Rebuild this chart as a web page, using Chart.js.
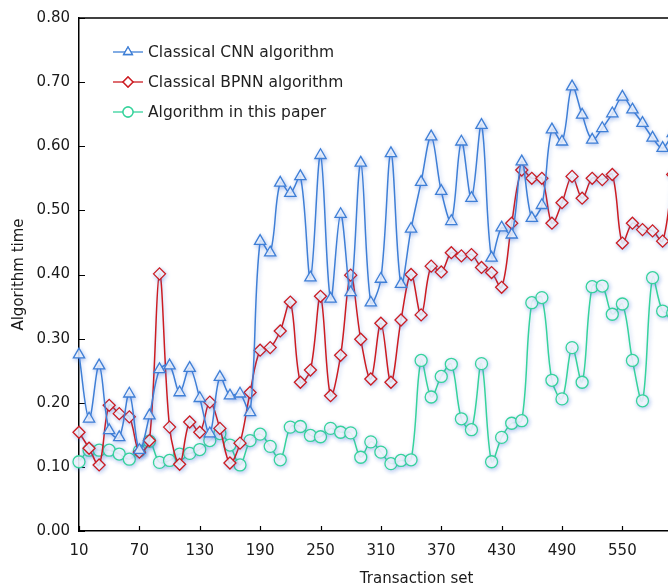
<!DOCTYPE html>
<html>
<head>
<meta charset="utf-8">
<script src="https://cdn.jsdelivr.net/npm/chart.js@4/dist/chart.umd.min.js"></script>
<style>
  html, body { margin: 0; padding: 0; background: #fff; overflow: hidden; }
  #wrap { width: 762px; height: 585px; }
</style>
</head>
<body>
<div id="wrap"><canvas id="chart" width="762" height="585"></canvas></div>
<script>
// transaction set sizes (x)
const transactionSet = [10, 20, 30, 40, 50, 60, 70, 80, 90, 100,
  110, 120, 130, 140, 150, 160, 170, 180, 190, 200,
  210, 220, 230, 240, 250, 260, 270, 280, 290, 300,
  310, 320, 330, 340, 350, 360, 370, 380, 390, 400,
  410, 420, 430, 440, 450, 460, 470, 480, 490, 500,
  510, 520, 530, 540, 550, 560, 570, 580, 590, 600];

const cnnTime = [0.275, 0.175, 0.258, 0.157, 0.146, 0.214, 0.126, 0.180, 0.252, 0.258,
  0.216, 0.254, 0.207, 0.152, 0.240, 0.211, 0.214, 0.185, 0.452, 0.434,
  0.543, 0.527, 0.553, 0.395, 0.586, 0.362, 0.494, 0.372, 0.574, 0.356,
  0.393, 0.589, 0.385, 0.471, 0.544, 0.615, 0.530, 0.483, 0.607, 0.519,
  0.633, 0.426, 0.473, 0.462, 0.576, 0.488, 0.508, 0.626, 0.607, 0.693,
  0.649, 0.610, 0.628, 0.651, 0.677, 0.657, 0.636, 0.613, 0.597, 0.620];

const bpnnTime = [0.154, 0.129, 0.103, 0.196, 0.183, 0.178, 0.123, 0.141, 0.401, 0.162,
  0.104, 0.170, 0.154, 0.201, 0.160, 0.106, 0.137, 0.216, 0.282, 0.286,
  0.312, 0.357, 0.232, 0.251, 0.366, 0.211, 0.274, 0.399, 0.299, 0.237,
  0.324, 0.232, 0.329, 0.400, 0.337, 0.413, 0.404, 0.434, 0.429, 0.431,
  0.411, 0.403, 0.380, 0.480, 0.563, 0.550, 0.550, 0.480, 0.512, 0.553,
  0.519, 0.550, 0.548, 0.556, 0.449, 0.480, 0.470, 0.468, 0.452, 0.556];

const paperTime = [0.108, 0.126, 0.126, 0.126, 0.120, 0.112, 0.125, 0.140, 0.107, 0.110,
  0.120, 0.121, 0.127, 0.141, 0.152, 0.134, 0.103, 0.141, 0.151, 0.132,
  0.111, 0.162, 0.163, 0.149, 0.147, 0.160, 0.154, 0.153, 0.115, 0.139,
  0.123, 0.105, 0.110, 0.111, 0.266, 0.209, 0.241, 0.260, 0.175, 0.158,
  0.261, 0.108, 0.146, 0.168, 0.172, 0.356, 0.364, 0.235, 0.206, 0.286,
  0.232, 0.381, 0.382, 0.338, 0.354, 0.266, 0.203, 0.395, 0.343, 0.340];

const xTicks = [10, 70, 130, 190, 250, 310, 370, 430, 490, 550, 610];
const yTicks = [0, 0.1, 0.2, 0.3, 0.4, 0.5, 0.6, 0.7, 0.8];

const seriesNames = ['Classical CNN algorithm', 'Classical BPNN algorithm', 'Algorithm in this paper'];
const colors = ['#3f7fd6', '#cc1c22', '#36d39c'];
const shapes = ['triangle', 'rectRot', 'circle'];

const FONT = 'DejaVu Sans, Verdana, sans-serif';

function pts(vals) {
  return vals.map((v, i) => ({ x: transactionSet[i], y: v }));
}

function makeSet(i, vals) {
  return {
    label: seriesNames[i],
    data: pts(vals),
    borderColor: colors[i],
    borderWidth: 1.5,
    pointStyle: shapes[i],
    pointRadius: i == 0 ? 6.5 : 6,
    pointBorderWidth: 1.3,
    pointBorderColor: colors[i],
    pointBackgroundColor: 'rgba(255,255,255,0.85)',
    tension: 0.35,
    clip: false
  };
}

// soft glow under the lines/markers
const glow = {
  id: 'glow',
  beforeDatasetDraw(chart) {
    const ctx = chart.ctx;
    ctx.save();
    ctx.shadowColor = 'rgba(70,120,220,0.4)';
    ctx.shadowBlur = 4;
    ctx.shadowOffsetX = 1;
    ctx.shadowOffsetY = 1.5;
  },
  afterDatasetDraw(chart) {
    chart.ctx.restore();
  }
};

// top frame line + inward tick marks
const frame = {
  id: 'frame',
  beforeDatasetsDraw(chart) {
    const ctx = chart.ctx;
    const a = chart.chartArea;
    const xs = chart.scales.x, ys = chart.scales.y;
    ctx.save();
    ctx.strokeStyle = '#000';
    ctx.lineWidth = 1.5;
    ctx.beginPath();
    ctx.moveTo(a.left, a.top);
    ctx.lineTo(a.right, a.top);
    ctx.stroke();
    ctx.lineWidth = 1.2;
    ctx.beginPath();
    yTicks.forEach(v => {
      const y = Math.round(ys.getPixelForValue(v)) + 0.5;
      ctx.moveTo(a.left, y);
      ctx.lineTo(a.left + 6, y);
    });
    xTicks.forEach(v => {
      const x = Math.round(xs.getPixelForValue(v)) + 0.5;
      ctx.moveTo(x, a.bottom);
      ctx.lineTo(x, a.bottom - 5);
    });
    ctx.stroke();
    ctx.restore();
  }
};

// legend inside the plot, upper left
const innerLegend = {
  id: 'innerLegend',
  afterDraw(chart) {
    const ctx = chart.ctx;
    ctx.save();
    ctx.font = '15.5px ' + FONT;
    ctx.textBaseline = 'middle';
    seriesNames.forEach((name, i) => {
      const y = 52 + i * 30;
      ctx.strokeStyle = colors[i];
      ctx.lineWidth = 1.3;
      ctx.beginPath();
      ctx.moveTo(113, y);
      ctx.lineTo(143, y);
      ctx.stroke();
      ctx.fillStyle = '#fff';
      Chart.helpers.drawPoint(ctx, { pointStyle: shapes[i], radius: 5, borderWidth: 1.2, rotation: 0 }, 128, y);
      ctx.fill();
      ctx.stroke();
      ctx.fillStyle = '#222';
      ctx.fillText(name, 148, y + 1);
    });
    ctx.restore();
  }
};

new Chart(document.getElementById('chart'), {
  type: 'line',
  data: {
    datasets: [makeSet(0, cnnTime), makeSet(1, bpnnTime), makeSet(2, paperTime)]
  },
  options: {
    responsive: false,
    animation: false,
    layout: { padding: { left: 0, right: 0, top: 16, bottom: 0 } },
    plugins: { legend: { display: false }, tooltip: { enabled: false } },
    scales: {
      x: {
        type: 'linear',
        min: 10,
        max: 681,
        afterBuildTicks: s => { s.ticks = xTicks.map(v => ({ value: v })); },
        afterFit: s => { s.height = 54; },
        grid: { display: false, drawTicks: false },
        border: { display: true, color: '#000', width: 1.5 },
        ticks: { autoSkip: false, maxRotation: 0, padding: 11, color: '#1a1a1a', font: { family: FONT, size: 15 } },
        title: { display: true, text: 'Transaction set', color: '#1a1a1a', padding: { top: 0, bottom: -3 }, font: { family: FONT, size: 15 } }
      },
      y: {
        min: 0,
        max: 0.8,
        afterBuildTicks: s => { s.ticks = yTicks.map(v => ({ value: v })); },
        afterFit: s => { s.width = 79; },
        grid: { display: false, drawTicks: false },
        border: { display: true, color: '#000', width: 1.5 },
        ticks: { padding: 9, color: '#1a1a1a', font: { family: FONT, size: 15 }, callback: v => v.toFixed(2) },
        title: { display: true, text: 'Algorithm time', color: '#1a1a1a', padding: { top: 10, bottom: 0 }, font: { family: FONT, size: 15 } }
      }
    }
  },
  plugins: [glow, frame, innerLegend]
});
</script>
</body>
</html>
